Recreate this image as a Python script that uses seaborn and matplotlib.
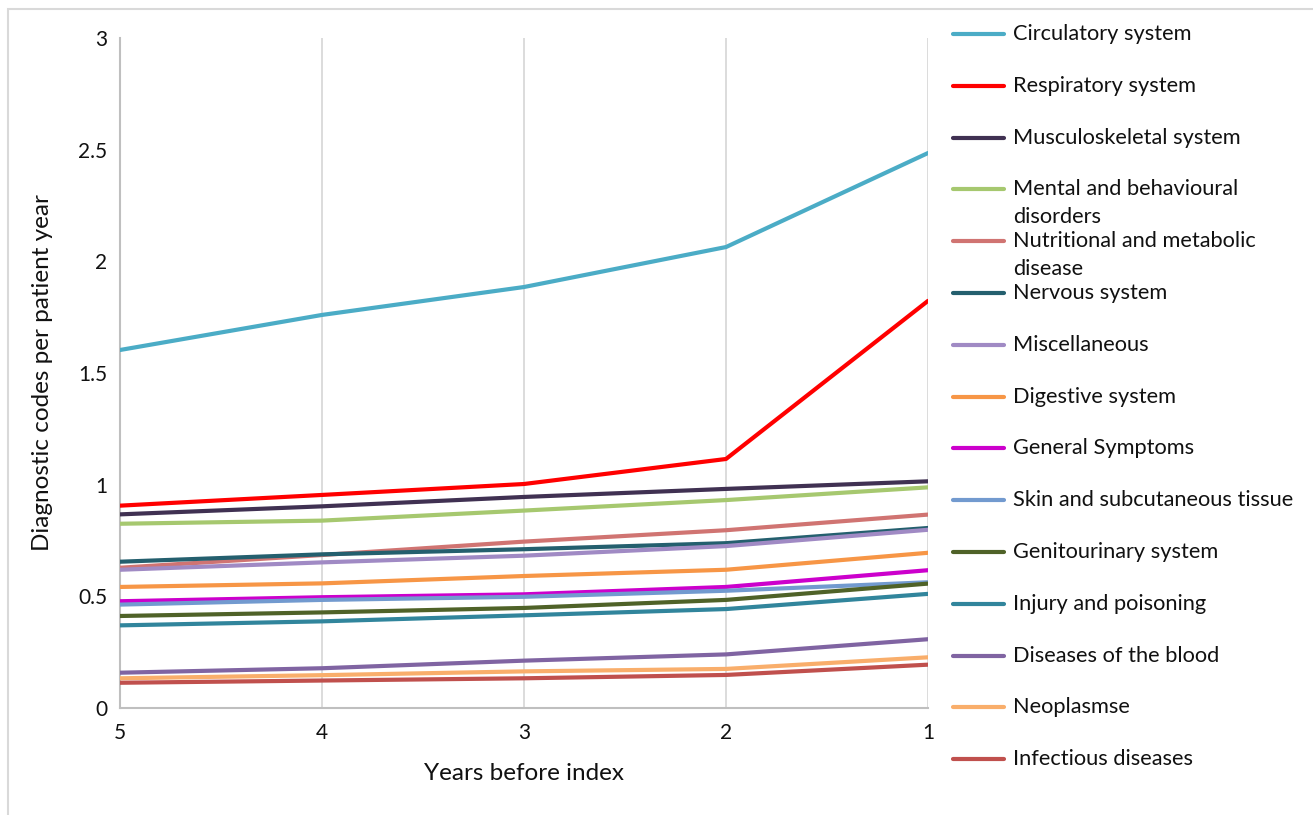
import matplotlib
matplotlib.use("Agg")
import matplotlib.pyplot as plt
from matplotlib.lines import Line2D
from matplotlib.patches import Rectangle
import seaborn as sns
import pandas as pd

years = [5, 4, 3, 2, 1]
categories = [
    "Circulatory system", "Respiratory system", "Musculoskeletal system",
    "Mental and behavioural\ndisorders", "Nutritional and metabolic\ndisease",
    "Nervous system", "Miscellaneous", "Digestive system", "General Symptoms",
    "Skin and subcutaneous tissue", "Genitourinary system", "Injury and poisoning",
    "Diseases of the blood", "Neoplasmse", "Infectious diseases",
]
circulatory = [1.603, 1.760, 1.885, 2.064, 2.485]
respiratory = [0.906, 0.954, 1.003, 1.115, 1.823]
musculoskeletal = [0.867, 0.903, 0.945, 0.981, 1.015]
mental = [0.825, 0.839, 0.884, 0.931, 0.988]
nutritional = [0.628, 0.685, 0.745, 0.796, 0.866]
nervous = [0.655, 0.688, 0.711, 0.738, 0.806]
misc = [0.619, 0.652, 0.682, 0.725, 0.798]
digestive = [0.542, 0.558, 0.591, 0.619, 0.695]
general = [0.478, 0.496, 0.509, 0.542, 0.617]
skin = [0.463, 0.484, 0.498, 0.525, 0.563]
genitourinary = [0.412, 0.428, 0.448, 0.484, 0.557]
injury = [0.370, 0.388, 0.415, 0.443, 0.511]
blood = [0.158, 0.178, 0.212, 0.240, 0.308]
neoplasm = [0.133, 0.147, 0.164, 0.175, 0.227]
infectious = [0.113, 0.123, 0.133, 0.148, 0.194]
series = [circulatory, respiratory, musculoskeletal, mental, nutritional, nervous,
          misc, digestive, general, skin, genitourinary, injury, blood, neoplasm,
          infectious]
colors = ["#4BACC6", "#FF0000", "#403152", "#A6C86F", "#D07472", "#245F6E",
          "#A08AC4", "#F79646", "#CC00CC", "#729ACF", "#4F6228", "#31859C",
          "#8064A2", "#F9AE6B", "#C0504D"]

rows = []
for cat, vals in zip(categories, series):
    for y, v in zip(years, vals):
        rows.append({"year": y, "value": v, "category": cat})
df = pd.DataFrame(rows)

sns.set_style("white")
plt.rcParams["font.family"] = ["Lato", "DejaVu Sans"]

W, H = 1313, 815
fig = plt.figure(figsize=(W / 100, H / 100), dpi=100)
ax = fig.add_axes([120 / W, 1 - 708 / H, (928 - 120) / W, (708 - 38) / H])

sns.lineplot(data=df, x="year", y="value", hue="category", hue_order=categories,
             palette=colors, linewidth=3, legend=False, ax=ax, zorder=3)

ax.set_xlim(5, 1)
ax.set_ylim(0, 3)
ax.set_xticks(years)
ax.set_xticklabels([str(y) for y in years])
ax.set_yticks([0, 0.5, 1, 1.5, 2, 2.5, 3])
ax.set_yticklabels(["0", "0.5", "1", "1.5", "2", "2.5", "3"])
ax.grid(axis="x", color="#D9D9D9", linewidth=1.3)
ax.grid(axis="y", visible=False)
for s in ["top", "right"]:
    ax.spines[s].set_visible(False)
for s in ["left", "bottom"]:
    ax.spines[s].set_color("#BFBFBF")
    ax.spines[s].set_linewidth(1.5)
ax.tick_params(axis="both", length=0, labelsize=15, colors="#111111")
ax.tick_params(axis="x", pad=11)
ax.tick_params(axis="y", pad=9)
ax.set_xlabel("Years before index", fontsize=17.5, labelpad=14, color="#111111")
ax.set_ylabel("Diagnostic codes per patient year", fontsize=17.5, labelpad=18,
              color="#111111")

# legend drawn manually to mimic fixed spacing with wrapped labels
y0, dy = 34, 51.8
for i, (cat, c) in enumerate(zip(categories, colors)):
    yp = y0 + i * dy
    fig.add_artist(Line2D([953 / W, 1004 / W], [1 - yp / H, 1 - yp / H],
                          color=c, linewidth=3, solid_capstyle="round"))
    for j, part in enumerate(cat.split("\n")):
        fig.text(1013 / W, 1 - (yp + 28 * j) / H, part, fontsize=15.7,
                 va="center", ha="left", color="#111111")

fig.add_artist(Rectangle((8 / W, -0.1), 1.2, 1 - 9 / H + 0.1,
                         transform=fig.transFigure, fill=False,
                         edgecolor="#D9D9D9", linewidth=1.5))

fig.savefig("out.png", dpi=100, facecolor="white")
